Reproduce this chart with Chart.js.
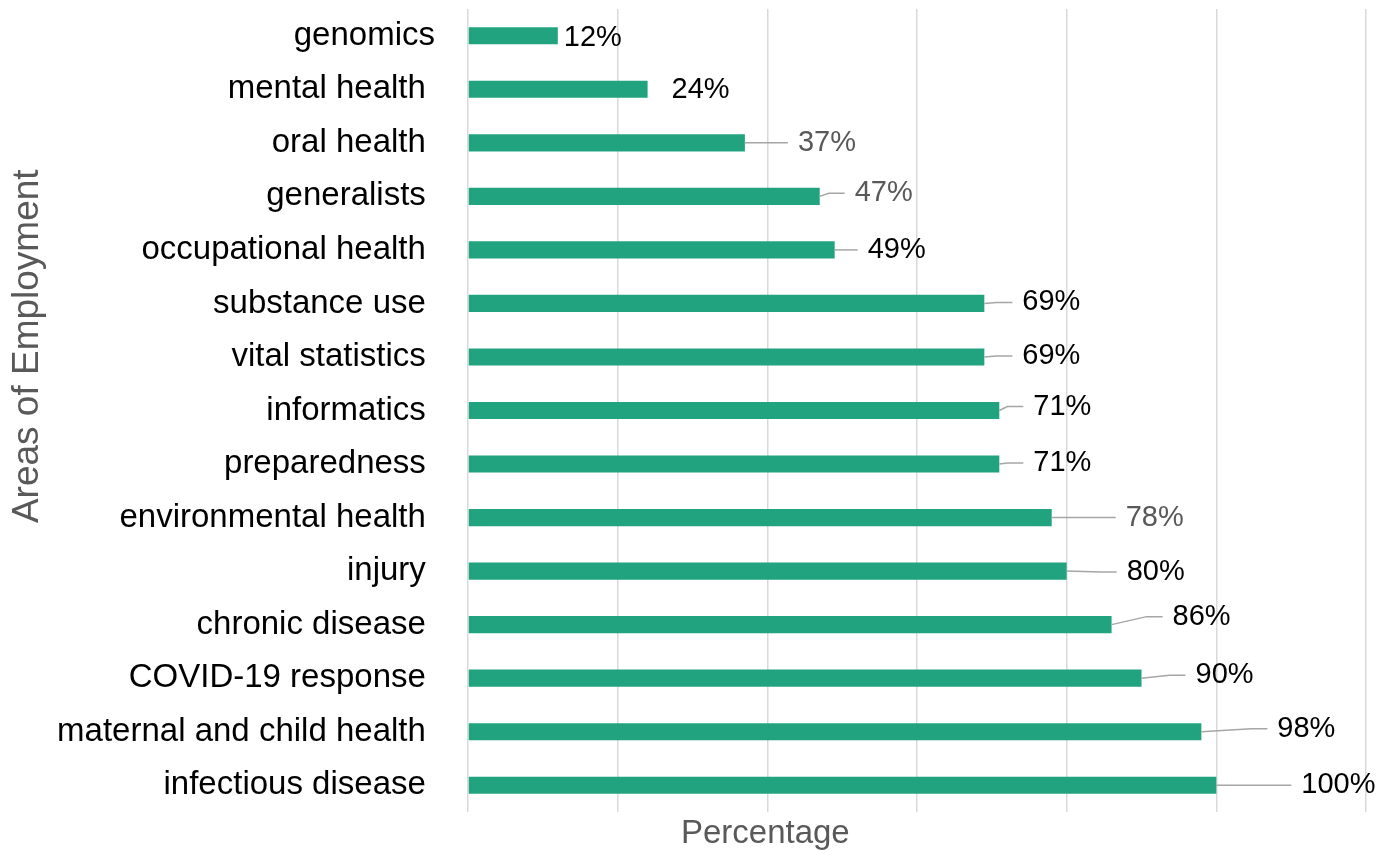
<!DOCTYPE html>
<html>
<head>
<meta charset="utf-8">
<script src="https://cdn.jsdelivr.net/npm/chart.js@4"></script>
<style>
  html, body { margin: 0; padding: 0; background: #fff; }
  #wrap { width: 1395px; height: 855px; }
</style>
</head>
<body>
<div id="wrap"><canvas id="myChart"></canvas></div>
<script>
var categories = ['genomics', 'mental health ', 'oral health ', 'generalists ', 'occupational health ',
    'substance use ', 'vital statistics ', 'informatics ', 'preparedness ', 'environmental health ',
    'injury ', 'chronic disease ', 'COVID-19 response ', 'maternal and child health ', 'infectious disease '];
var percentages = [12, 24, 37, 47, 49, 69, 69, 71, 71, 78, 80, 86, 90, 98, 100];
var xTicks = [0, 20, 40, 60, 80, 100, 120];

// label placement: offset from bar end (dx), vertical shift (dy), leader line on/off, grey text
var labelDx = [6, 24, 53, 35, 33, 38, 38, 34, 34, 74, 60, 61, 54, 76, 85];
var labelDy = [2, 1, 0, -3, 0, -1, -1, -4, -1, 0, 1, -8, -3, -3, 0];
var hasLeader = [false, false, true, true, true, true, true, true, true, true, true, true, true, true, true];
var greyLabel = [false, false, true, true, false, false, false, false, false, true, false, false, false, false, false];

var FONT = "'Liberation Sans', Arial, Helvetica, sans-serif";

var labelPlugin = {
    id: 'barLabels',
    afterDatasetsDraw: function (chart) {
        var c = chart.ctx;
        var meta = chart.getDatasetMeta(0);
        var area = chart.chartArea;
        c.save();
        c.font = '29px ' + FONT;
        c.textBaseline = 'middle';
        c.textAlign = 'left';
        meta.data.forEach(function (bar, i) {
            var x0 = bar.x, y0 = bar.y;
            var lx = x0 + labelDx[i];
            var ly = y0 + labelDy[i];
            if (hasLeader[i]) {
                c.strokeStyle = '#a6a6a6';
                c.lineWidth = 1.5;
                c.beginPath();
                c.moveTo(x0, y0);
                var kx = Math.max(x0, lx - 10 - 16);
                c.lineTo(kx, ly);
                c.lineTo(lx - 10, ly);
                c.stroke();
            }
            c.fillStyle = greyLabel[i] ? '#595959' : '#000000';
            c.fillText(percentages[i] + '%', lx, ly);
        });
        // axis titles
        c.fillStyle = '#595959';
        c.textAlign = 'center';
        c.font = '33px ' + FONT;
        c.fillText('Percentage', chart.scales.x.getPixelForValue(40) - 2, area.bottom + 22);
        c.translate(28, area.top + (area.bottom - area.top) * 0.42);
        c.rotate(-Math.PI / 2);
        c.font = '37px ' + FONT;
        c.fillText('Areas of Employment', 0, 0);
        c.restore();
    }
};

var ctx = document.getElementById('myChart').getContext('2d');

var myChart = new Chart(ctx, {
    type: 'bar',
    data: {
        labels: categories,
        datasets: [{
            data: percentages,
            backgroundColor: '#21a37f',
            borderWidth: 0,
            barPercentage: 1,
            categoryPercentage: 0.32
        }]
    },
    options: {
        indexAxis: 'y',
        responsive: true,
        maintainAspectRatio: false,
        animation: false,
        layout: { padding: { top: 9, right: 29, bottom: 43, left: 0 } },
        plugins: {
            legend: { display: false },
            tooltip: { enabled: false }
        },
        scales: {
            x: {
                min: 0,
                max: 120,
                afterBuildTicks: function (scale) {
                    scale.ticks = xTicks.map(function (v) { return { value: v }; });
                },
                afterFit: function (scale) { scale.height = 0; },
                ticks: { display: false },
                grid: { color: '#d9d9d9', lineWidth: 1.5, drawTicks: false },
                border: { display: false }
            },
            y: {
                afterFit: function (scale) {
                    scale.width = 468;
                    scale.paddingTop = 0;
                    scale.paddingBottom = 0;
                },
                ticks: {
                    color: '#000000',
                    font: { family: FONT, size: 33 },
                    padding: 33
                },
                grid: { display: false, drawTicks: false },
                border: { display: false }
            }
        }
    },
    plugins: [labelPlugin]
});
</script>
</body>
</html>
